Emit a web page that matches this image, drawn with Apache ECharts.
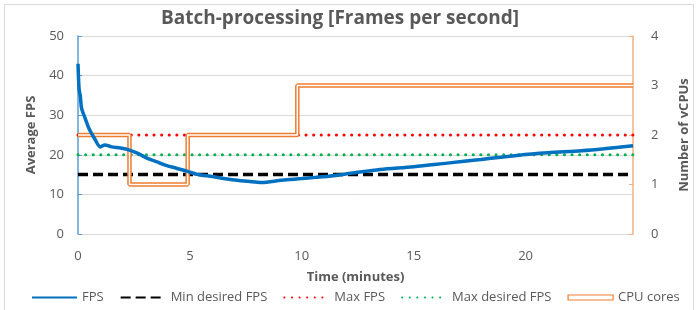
<!DOCTYPE html>
<html>
<head>
<meta charset="utf-8">
<script src="https://cdn.jsdelivr.net/npm/echarts@6/dist/echarts.min.js"></script>
<style>
  html, body { margin: 0; padding: 0; background: #fff; }
  #chart { width: 699px; height: 310px; }
</style>
</head>
<body>
<div id="chart"></div>
<script>
// 数据：时间 (分钟) 与平均帧率
var fpsTimes = [0, 0.05, 0.1, 0.15, 0.2, 0.3, 0.5, 0.75, 1.0, 1.2, 1.5, 1.9, 2.3, 2.7, 3.1, 3.5, 3.9, 4.4, 4.9, 5.3, 6.0, 6.9, 7.6, 8.2, 9.1, 10.0, 10.6, 11.2, 11.9, 12.5, 13.5, 15.0, 16.5, 18.0, 19.7, 21.0, 22.5, 23.5, 24.8];
var fpsValues = [43, 36.5, 35, 32, 31, 29.5, 26.5, 24, 22, 22.5, 22, 21.7, 21.2, 20.3, 19.1, 18.3, 17.4, 16.6, 15.8, 15.1, 14.5, 13.7, 13.3, 13.0, 13.6, 14.0, 14.3, 14.6, 15.1, 15.6, 16.3, 17.0, 17.9, 18.8, 19.9, 20.5, 21.0, 21.5, 22.3];
// CPU 核数 (阶梯)
var cpuTimes = [0, 2.3, 4.9, 9.8, 24.8];
var cpuCores = [2, 1, 2, 3, 3];
// 参考线
var minDesiredFps = 15;
var maxFps = 25;
var maxDesiredFps = 20;
var timeMax = 24.8;
var fpsTicks = [0, 10, 20, 30, 40, 50];
var cpuTicks = [0, 1, 2, 3, 4];

function zip(xs, ys) {
    return xs.map(function (x, i) { return [x, ys[i]]; });
}
function flat(v) {
    return [[0, v], [timeMax, v]];
}

var chart = echarts.init(document.getElementById('chart'));
var font = 'Open Sans';
var grey = '#595959';
var noSymbol = { opacity: 0 };

var option = {
    backgroundColor: '#ffffff',
    animation: false,
    textStyle: { fontFamily: font },
    graphic: [{
        type: 'rect',
        shape: { x: 4.5, y: 4.5, width: 689, height: 310 },
        style: { fill: 'none', stroke: '#d9d9d9', lineWidth: 1 },
        silent: true
    }],
    title: {
        text: 'Batch-processing [Frames per second]',
        left: 156,
        top: 4,
        textStyle: { fontFamily: font, fontSize: 19, fontWeight: 'bold', color: grey }
    },
    legend: {
        bottom: 1,
        left: 26,
        itemWidth: 45,
        itemHeight: 5,
        itemGap: 16,
        textStyle: { fontFamily: font, fontSize: 13, color: grey },
        data: [
            { name: 'FPS', itemStyle: noSymbol },
            { name: 'Min desired FPS', itemStyle: noSymbol },
            { name: 'Max FPS', itemStyle: noSymbol },
            { name: 'Max desired FPS', itemStyle: noSymbol },
            { name: 'CPU cores', icon: 'rect', itemStyle: { color: '#ffffff', borderColor: '#ED7D31', borderWidth: 1.2 } }
        ]
    },
    grid: { left: 78, right: 62, top: 36, bottom: 76 },
    xAxis: {
        type: 'value',
        min: 0,
        max: timeMax,
        interval: 5,
        name: 'Time (minutes)',
        nameLocation: 'middle',
        nameGap: 37,
        nameTextStyle: { fontFamily: font, fontSize: 13, fontWeight: 'bold', color: grey },
        axisLine: { lineStyle: { color: '#d9d9d9' } },
        axisTick: { show: false },
        splitLine: { show: false },
        axisLabel: {
            color: grey, fontSize: 13, margin: 16,
            formatter: function (v) { return v % 5 === 0 ? String(v) : ''; }
        }
    },
    yAxis: [{
        type: 'value',
        min: fpsTicks[0],
        max: fpsTicks[fpsTicks.length - 1],
        interval: 10,
        name: 'Average FPS',
        nameLocation: 'middle',
        nameGap: 40,
        nameTextStyle: { fontFamily: font, fontSize: 13, fontWeight: 'bold', color: grey },
        axisLine: { show: true, lineStyle: { color: '#5B9BD5', width: 1.5 } },
        axisTick: { show: true, inside: true, length: 4, lineStyle: { color: '#5B9BD5' } },
        splitLine: { lineStyle: { color: '#d9d9d9' } },
        axisLabel: { color: grey, fontSize: 13, margin: 14 }
    }, {
        type: 'value',
        min: cpuTicks[0],
        max: cpuTicks[cpuTicks.length - 1],
        interval: 1,
        name: 'Number of vCPUs',
        nameLocation: 'middle',
        nameGap: 45,
        nameRotate: 90,
        nameTextStyle: { fontFamily: font, fontSize: 13, fontWeight: 'bold', color: grey },
        axisLine: { show: true, lineStyle: { color: '#F4B183', width: 1.5 } },
        axisTick: { show: true, inside: true, length: 4, lineStyle: { color: '#F4B183' } },
        splitLine: { show: false },
        axisLabel: { color: grey, fontSize: 13, margin: 18 }
    }],
    series: [{
        name: 'Min desired FPS',
        type: 'line',
        symbol: 'none',
        data: flat(minDesiredFps),
        lineStyle: { color: '#000000', width: 3.5, type: [10, 5] },
        itemStyle: { color: '#000000' }
    }, {
        name: 'Max FPS',
        type: 'line',
        symbol: 'none',
        data: flat(maxFps),
        lineStyle: { color: '#FF0000', width: 3, type: [0.1, 7.5], cap: 'round' },
        itemStyle: { color: '#FF0000' }
    }, {
        name: 'Max desired FPS',
        type: 'line',
        symbol: 'none',
        data: flat(maxDesiredFps),
        lineStyle: { color: '#00B050', width: 3, type: [0.1, 7.5], cap: 'round' },
        itemStyle: { color: '#00B050' }
    }, {
        name: 'CPU cores',
        type: 'line',
        yAxisIndex: 1,
        step: 'end',
        symbol: 'none',
        data: zip(cpuTimes, cpuCores),
        lineStyle: { color: '#ED7D31', width: 4.5 },
        itemStyle: { color: '#ED7D31' }
    }, {
        name: 'cpu-inner',
        type: 'line',
        yAxisIndex: 1,
        step: 'end',
        symbol: 'none',
        data: zip(cpuTimes, cpuCores),
        lineStyle: { color: '#ffffff', width: 1.5 },
        itemStyle: { color: '#ffffff' }
    }, {
        name: 'FPS',
        type: 'line',
        symbol: 'none',
        smooth: 0.3,
        data: zip(fpsTimes, fpsValues),
        lineStyle: { color: '#0070C0', width: 3.5 },
        itemStyle: { color: '#0070C0' }
    }]
};
chart.setOption(option);
</script>
</body>
</html>
